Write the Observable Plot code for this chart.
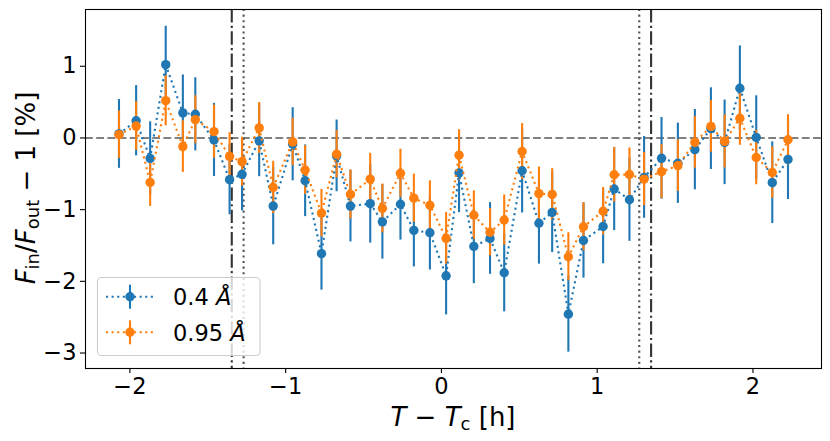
<!DOCTYPE html>
<html><head><meta charset="utf-8">
<script src="https://cdn.jsdelivr.net/npm/d3@7"></script>
<script src="https://cdn.jsdelivr.net/npm/@observablehq/plot@0.6"></script>
<style>body{margin:0;background:#fff} svg{display:block}</style>
</head><body><div id="chart"></div>
<script>
// time relative to transit centre [h]
const xs = [-2.07,-1.96,-1.87,-1.77,-1.66,-1.58,-1.46,-1.36,-1.28,-1.17,-1.08,-0.955,-0.875,-0.77,-0.673,-0.584,
            -0.457,-0.379,-0.263,-0.177,-0.074,0.03,0.113,0.208,0.312,0.403,0.518,0.626,0.711,0.815,0.912,
            1.038,1.109,1.207,1.301,1.413,1.518,1.627,1.730,1.818,1.916,2.021,2.124,2.225];
// series "0.4 Å"
const blue = [0.056,0.24,-0.285,1.023,0.349,0.33,-0.028,-0.582,-0.507,-0.04,-0.95,-0.088,-0.597,-1.613,-0.25,-0.95,
              -0.917,-1.17,-0.925,-1.289,-1.322,-1.923,-0.487,-1.513,-1.402,-1.881,-0.457,-1.19,-1.039,-2.458,-1.43,
              -1.235,-0.712,-0.862,-0.55,-0.284,-0.353,-0.163,0.13,-0.061,0.694,0.008,-0.624,-0.299];
const blueErr = [0.48,0.49,0.51,0.535,0.53,0.51,0.51,0.49,0.51,0.5,0.54,0.51,0.5,0.51,0.5,0.5,
                 0.55,0.52,0.5,0.51,0.52,0.545,0.555,0.52,0.5,0.545,0.59,0.57,0.56,0.53,0.525,
                 0.52,0.58,0.58,0.57,0.57,0.56,0.56,0.57,0.59,0.59,0.58,0.57,0.56];
// series "0.95 Å"
const orange = [0.046,0.166,-0.62,0.52,-0.12,0.255,0.088,-0.257,-0.331,0.14,-0.69,-0.055,-0.447,-1.048,-0.227,-0.787,
                -0.575,-0.983,-0.492,-0.84,-0.938,-1.4,-0.24,-1.078,-1.315,-1.145,-0.189,-0.776,-0.788,-1.657,-1.238,
                -1.022,-0.513,-0.51,-0.574,-0.47,-0.386,-0.062,0.162,-0.048,0.275,-0.273,-0.482,-0.025];
const orangeErr = [0.33,0.34,0.335,0.35,0.36,0.335,0.37,0.33,0.34,0.355,0.365,0.33,0.34,0.33,0.33,0.34,
                   0.36,0.34,0.335,0.335,0.34,0.36,0.355,0.34,0.33,0.35,0.39,0.37,0.36,0.335,0.335,
                   0.33,0.38,0.37,0.37,0.377,0.36,0.36,0.36,0.37,0.377,0.38,0.36,0.35];
const seriesNames = ["0.4", "0.95"];
const seriesColors = ["#1f77b4", "#ff7f0e"];
const xTicks = [-2,-1,0,1,2];
const yTicks = [-3,-2,-1,0,1];
const vDashDot = [-1.346, 1.346];
const vDotted = [-1.27, 1.27];
const hRef = [0];

const rows = (ys, es) => xs.map((x, i) => ({x, y: ys[i], e: es[i]}));
const B = rows(blue, blueErr), O = rows(orange, orangeErr);
const minus = d => (d < 0 ? "\u2212" : "") + Math.abs(d);
const lw = 2.1;
const dotted = "2.1,3.5";
const R = 4.7;

const bars = (data, c) => Plot.ruleX(data, {x: "x", y1: d => d.y - d.e, y2: d => d.y + d.e, stroke: c, strokeWidth: lw});
const conn = (data, c) => Plot.line(data, {x: "x", y: "y", stroke: c, strokeWidth: lw, strokeDasharray: dotted, strokeLinecap: "butt"});
const dots = (data, c) => Plot.dot(data, {x: "x", y: "y", r: R, fill: c, stroke: "none"});

const svg = Plot.plot({
  width: 830, height: 441,
  marginLeft: 85, marginRight: 9, marginTop: 9, marginBottom: 73,
  style: {fontFamily: "DejaVu Sans", fontSize: "22.5px", background: "white", color: "black"},
  x: {domain: [-2.285, 2.44]},
  y: {domain: [-3.216, 1.792]},
  marks: [
    Plot.ruleY(hRef, {stroke: "#808080", strokeWidth: lw, strokeDasharray: "7.8,3.4"}),
    Plot.ruleX(vDashDot, {stroke: "#333333", strokeWidth: lw, strokeDasharray: "13.4,3.4,2.1,3.4"}),
    Plot.ruleX(vDotted, {stroke: "#555555", strokeWidth: lw, strokeDasharray: dotted}),
    bars(B, seriesColors[0]),
    bars(O, seriesColors[1]),
    conn(B, seriesColors[0]),
    dots(B, seriesColors[0]),
    conn(O, seriesColors[1]),
    dots(O, seriesColors[1]),
    Plot.axisX({ticks: xTicks, tickFormat: minus, tickSize: 5, tickPadding: 5, label: null, fontSize: 22.5, strokeWidth: 1.1}),
    Plot.axisY({ticks: yTicks, tickFormat: minus, tickSize: 5, tickPadding: 4, label: null, fontSize: 22.5, strokeWidth: 1.1}),
    Plot.frame({stroke: "black", strokeWidth: 1.1})
  ]
});
document.getElementById("chart").appendChild(svg);

const s = d3.select(svg);
// x label
const xl = s.append("text").attr("x", 453).attr("y", 426).attr("text-anchor", "middle")
  .attr("font-family", "DejaVu Sans").attr("font-size", 26).attr("fill", "black");
xl.append("tspan").attr("font-style", "italic").text("T");
xl.append("tspan").text(" \u2212 ");
xl.append("tspan").attr("font-style", "italic").text("T");
xl.append("tspan").attr("font-size", 18).attr("dy", 4).text("c");
xl.append("tspan").attr("dy", -4).text(" [h]");
// y label
const yl = s.append("text").attr("transform", "translate(34.5,188) rotate(-90)").attr("text-anchor", "middle")
  .attr("font-family", "DejaVu Sans").attr("font-size", 26).attr("fill", "black");
yl.append("tspan").attr("font-style", "italic").text("F");
yl.append("tspan").attr("font-size", 18).attr("dy", 4).text("in");
yl.append("tspan").attr("dy", -4).text("/");
yl.append("tspan").attr("font-style", "italic").text("F");
yl.append("tspan").attr("font-size", 18).attr("dy", 4).text("out");
yl.append("tspan").attr("dy", -4).text(" \u2212 1 [%]");

// legend
const lg = s.append("g");
lg.append("rect").attr("x", 97.5).attr("y", 277.5).attr("width", 162.5).attr("height", 78).attr("rx", 4)
  .attr("fill", "white").attr("fill-opacity", 0.8).attr("stroke", "#cccccc").attr("stroke-width", 1.1);
seriesNames.forEach((name, k) => {
  const cy = 296.7 + 35.6 * k, c = seriesColors[k];
  lg.append("line").attr("x1", 106).attr("x2", 154).attr("y1", cy).attr("y2", cy)
    .attr("stroke", c).attr("stroke-width", lw).attr("stroke-dasharray", dotted);
  lg.append("line").attr("x1", 130).attr("x2", 130).attr("y1", cy - 12).attr("y2", cy + 12)
    .attr("stroke", c).attr("stroke-width", lw);
  lg.append("circle").attr("cx", 130).attr("cy", cy).attr("r", R).attr("fill", c);
  const t = lg.append("text").attr("x", 173).attr("y", cy + 8.3).attr("text-anchor", "start")
    .attr("font-family", "DejaVu Sans").attr("font-size", 22.5).attr("fill", "black");
  t.append("tspan").text(name + " ");
  t.append("tspan").attr("font-style", "italic").text("\u00c5");
});
</script>
</body></html>
